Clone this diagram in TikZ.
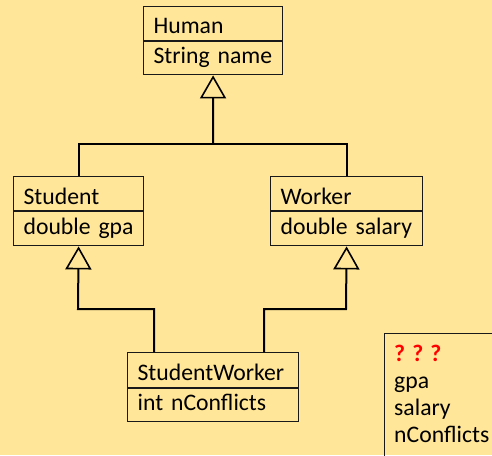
\documentclass[tikz,border=0pt]{standalone}
\usepackage{fontspec}
\setmainfont{Carlito}
\usetikzlibrary{arrows.meta,calc}
\definecolor{bg}{HTML}{FFE699}
\hfuzz=200pt
\hbadness=10000
\begin{document}
\begin{tikzpicture}[x=1pt,y=-1pt,
  every node/.style={font=\fontsize{23.7}{27}\selectfont},
  row/.style={draw=black!90, line width=1.2pt, anchor=north west, inner xsep=10pt, inner ysep=0pt, align=left, minimum height=34pt},
  head/.style={row, text height=21pt, text depth=0pt},
  attr/.style={row, text height=11pt, text depth=0pt},
  link/.style={line width=2pt, black},
  inh/.style={link, -{Triangle[open, length=23pt, width=26pt, line width=1.6pt]}}
]
\useasboundingbox (0,0) rectangle (492,455);
\fill[bg] (0,0) rectangle (492,455);

\node[head, text width=119pt, minimum height=33.5pt] (human) at (143,6) {Human};
\node[attr, text width=119pt, minimum height=33.5pt] (humanA) at (human.south west) {\mbox{String name}};

\node[head, text width=110pt] (student) at (13,176) {Student};
\node[attr, text width=110pt] (studentA) at (student.south west) {\mbox{double gpa}};

\node[head, text width=132pt] (worker) at (270,176) {Worker};
\node[attr, text width=132pt] (workerA) at (worker.south west) {\mbox{double salary}};

\node[head, text width=151pt, minimum height=35pt] (sw) at (127,352) {StudentWorker};
\node[attr, text width=151pt, minimum height=33pt] (swA) at (sw.south west) {\mbox{int nConflicts}};

\coordinate (j1) at (213,144);
\draw[link] (student.north) |- (j1) -| (worker.north);
\draw[inh] (j1) -- (humanA.south);

\coordinate (j2) at (78,309);
\coordinate (j3) at (346,309);
\draw[inh] ([xshift=27pt]sw.north west) |- (j2) -- (studentA.south);
\draw[inh] ([xshift=-35pt]sw.north east) |- (j3) -- (workerA.south);

\begin{scope}
\clip (0,0) rectangle (492,455);
\node[draw=black!90, line width=1.2pt, anchor=north west, minimum width=130pt, minimum height=200pt, inner sep=0pt] (note) at (384,333) {};
\node[anchor=north west, inner sep=0pt, align=left] (notetext) at ([shift={(10,12)}]note.north west)
  {\textcolor{red}{\textbf{? ? ?}}\\gpa\\salary\\nConflicts};
\end{scope}
\end{tikzpicture}
\end{document}
